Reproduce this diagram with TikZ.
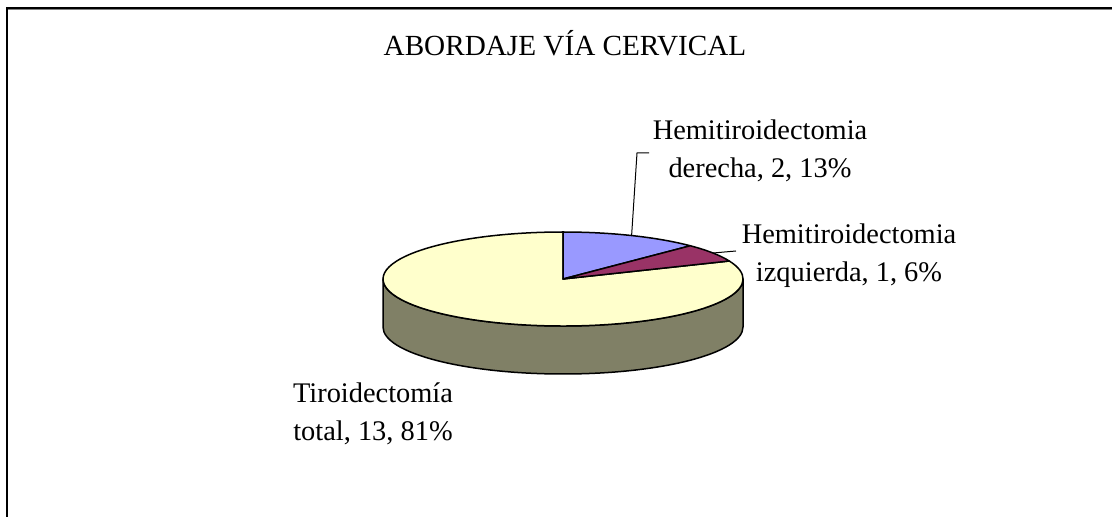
\documentclass[tikz,border=0pt]{standalone}
\usepackage{fontspec}
\setmainfont{Liberation Serif}
\definecolor{sliceblue}{RGB}{153,153,255}
\definecolor{slicered}{RGB}{153,51,102}
\definecolor{sliceyellow}{RGB}{255,255,204}
\definecolor{sideolive}{RGB}{128,128,102}
\tikzset{slice/.style={draw=black, line width=0.75pt, line join=round},
  lbl/.style={align=center, inner sep=0pt, font=\fontsize{14.2}{19}\selectfont},
  leader/.style={draw=black, line width=0.5pt}}
\begin{document}
\begin{tikzpicture}[x=0.5pt,y=0.5pt]
\useasboundingbox (0,0) rectangle (1112,-517);
\draw[line width=0.5pt, color=gray] (1112,-10)--(8,-10);
\draw[line width=1pt] (1112,-8)--(7,-8)--(7,-517);
\node (title) at (565,-56)[anchor=base, inner sep=0pt, font=\fontsize{14.6}{17}\selectfont]{ABORDAJE VÍA CERVICAL};
\coordinate (C) at (563,-279);
\coordinate (L) at (383,-279); \coordinate (R) at (743,-279);
\filldraw[slice, fill=sideolive] (L) -- ++(0,-48) arc[start angle=180, end angle=360, x radius=180, y radius=47] -- (R) arc[start angle=0, end angle=-180, x radius=180, y radius=47] -- cycle;
\filldraw[slice, fill=sliceyellow] (C) -- ++(22.5:180 and 47) arc[start angle=22.5, end angle=-270, x radius=180, y radius=47] -- cycle;
\filldraw[slice, fill=sliceblue] (C) -- ++(90:180 and 47) arc[start angle=90, end angle=45, x radius=180, y radius=47] -- cycle;
\filldraw[slice, fill=slicered] (C) -- ++(45:180 and 47) arc[start angle=45, end angle=22.5, x radius=180, y radius=47] -- cycle;
\node (lblDer) at (760,-178)[lbl, anchor=base]{Hemitiroidectomia\\derecha, 2, 13\%};
\node (lblIzq) at (849,-282)[lbl, anchor=base]{Hemitiroidectomia\\izquierda, 1, 6\%};
\node (lblTot) at (373,-441)[lbl, anchor=base]{Tiroidectomía\\total, 13, 81\%};
\coordinate (derPt) at (631.6,-235.6); \coordinate (derKnee) at (637,-153); \coordinate (derEnd) at (649,-153);
\draw[leader] (derPt) -- (derKnee) -- (derEnd);
\coordinate (izqPt) at (713,-253); \coordinate (izqEnd) at (736,-251);
\draw[leader] (izqPt) -- (izqEnd);
\end{tikzpicture}
\end{document}
